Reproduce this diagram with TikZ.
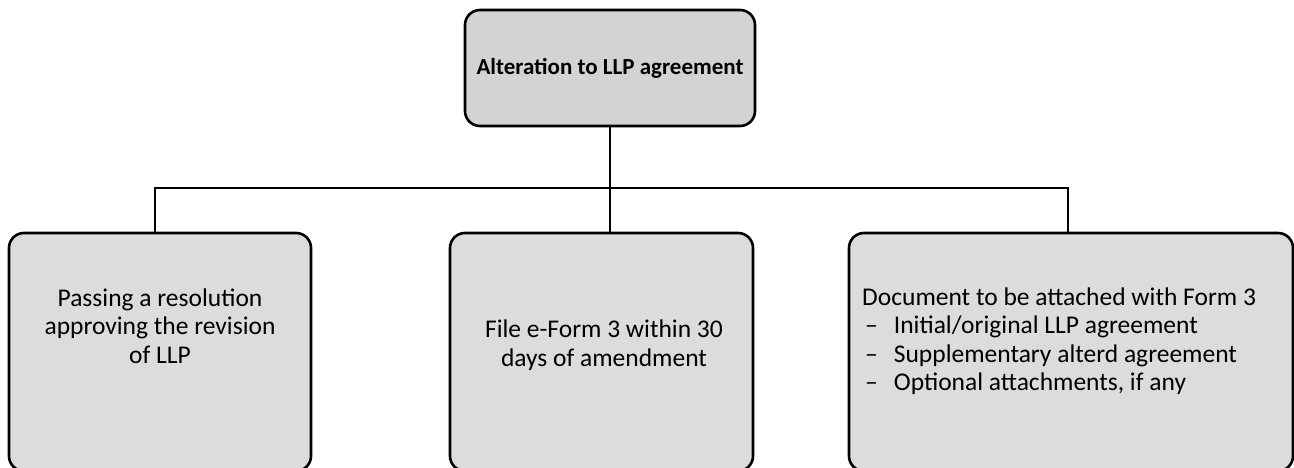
\documentclass[tikz,border=0pt]{standalone}
\usepackage{fontspec}
\setmainfont{Carlito}
\begin{document}
\begin{tikzpicture}[x=1pt,y=-1pt,
  box/.style={draw=black, line width=2.6pt, rounded corners=15pt, inner sep=0pt},
  topbox/.style={box, fill=topgray},
  leafbox/.style={box, fill=leafgray},
  link/.style={draw=black, line width=2.2pt},
  leaftext/.style={align=center, font=\fontsize{25.5}{28.5}\selectfont, inner sep=0pt},
]
\definecolor{topgray}{HTML}{D3D3D3}
\definecolor{leafgray}{HTML}{DCDCDC}
\useasboundingbox (0,0) rectangle (1294,468);
\clip (0,0) rectangle (1294,468);

% root box
\node[topbox, minimum width=290pt, minimum height=116pt] (root) at (610,68) {};
\node[font=\bfseries\fontsize{23}{27}\selectfont, inner sep=0pt] (roottext) at (610,68) {Alteration to LLP agreement};

% three leaf boxes, running past the lower edge
\node[leafbox, minimum width=302pt, minimum height=238pt] (leafA) at (160,352) {};
\node[leafbox, minimum width=303pt, minimum height=238pt] (leafB) at (601.5,352) {};
\node[leafbox, minimum width=444pt, minimum height=238pt] (leafC) at (1071,352) {};

\node[leaftext] (textA) at (160,326) {Passing a resolution\\approving the revision\\of LLP};
\node[leaftext] (textB) at (604,345) {File e-Form 3 within 30\\days of amendment};
\node[leaftext, align=left, anchor=west] (textC) at (862,341) {Document to be attached with Form 3\\
  \hspace*{3pt}–\hspace{16pt}Initial/original LLP agreement\\
  \hspace*{3pt}–\hspace{16pt}Supplementary alterd agreement\\
  \hspace*{3pt}–\hspace{16pt}Optional attachments, if any};

% connectors
\coordinate (busL) at (155,188);
\coordinate (busR) at (1068,188);
\draw[link] (root.south) -- (root.south |- leafB.north);
\draw[link] (busL |- leafA.north) -- (busL) -- (busR) -- (busR |- leafC.north);
\end{tikzpicture}
\end{document}
